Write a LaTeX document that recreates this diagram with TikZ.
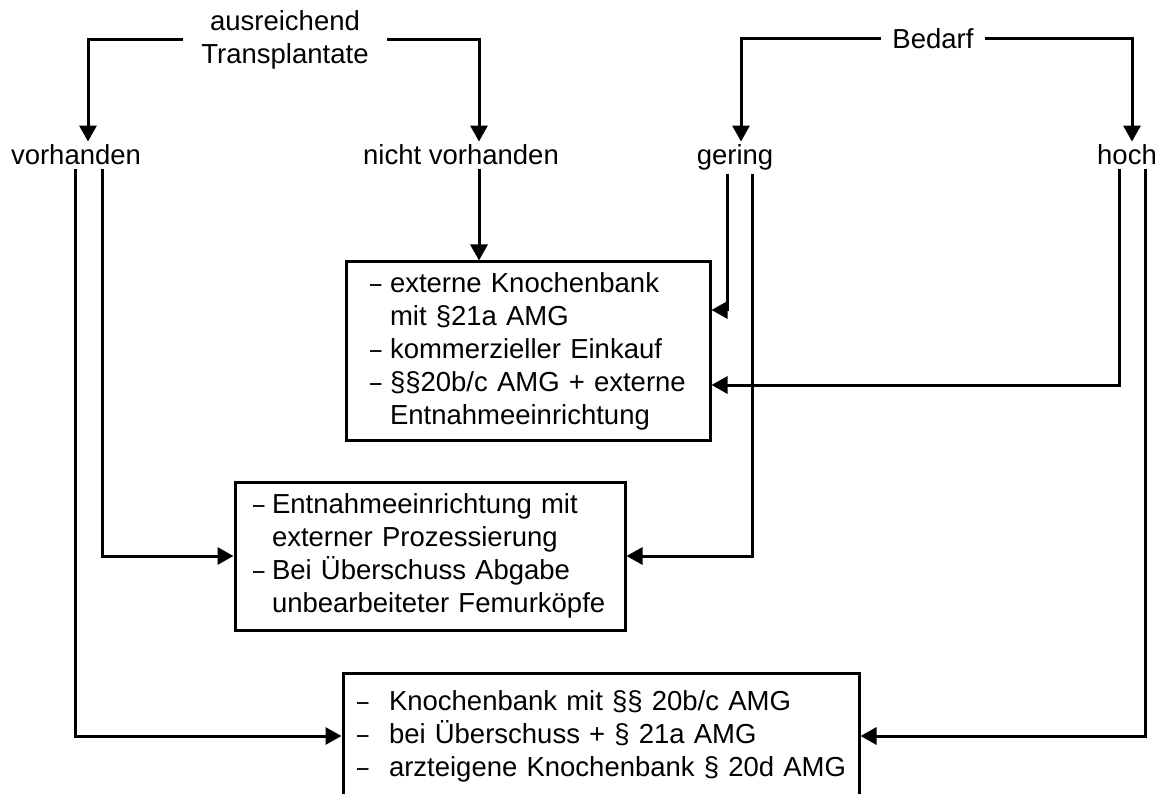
\documentclass[tikz,border=0pt]{standalone}
\usepackage{fontspec}
\setmainfont{Liberation Sans}
\usetikzlibrary{arrows.meta}
\tikzstyle{arrow} = [line width=3pt,-{Triangle[width=17pt,length=16pt]}]
\tikzstyle{txt} = [font=\fontsize{27.5}{33}\selectfont]
\tikzstyle{kasten} = [txt, draw, line width=3pt, align=left]
\newcommand{\strich}[1][22pt]{\makebox[#1][l]{\hspace{2pt}\scalebox{0.75}[1]{–}}}

\begin{document}
\begin{tikzpicture}[x=1pt,y=-1pt]
	\useasboundingbox (0,0) rectangle (1162,794);
	\node[txt, align=center, inner xsep=18pt] (ausr) at (285,40) {ausreichend\\Transplantate};
	\node[txt, inner xsep=11pt] (bedarf) at (933,39) {Bedarf};
	\node[txt, anchor=base] (vorh) at (76,165) {vorhanden};
	\node[txt, anchor=base] (nvorh) at (461,165) {nicht vorhanden};
	\node[txt, anchor=base] (gering) at (735,165) {gering};
	\node[txt, anchor=base] (hoch) at (1127,165) {hoch};

	\node[kasten, text width=320pt, inner xsep=22pt, minimum height=178pt] (box1) at (528,351) {\strich externe Knochenbank\\\hspace*{22pt}mit §21a AMG\\\strich kommerzieller Einkauf\\\strich §§20b/c AMG + externe\\\hspace*{22pt}Entnahmeeinrichtung};
	\node[kasten, text width=358pt, inner xsep=16pt, minimum height=148pt] (box2) at (430,556) {\strich[21pt]Entnahmeeinrichtung mit\\\hspace*{21pt}externer Prozessierung\\\strich[21pt]Bei Überschuss Abgabe\\\hspace*{21pt}unbearbeiteter Femurköpfe};
	\node[kasten, text width=492pt, inner xsep=12pt, minimum height=126pt] (box3) at (601,736) {\strich[34pt]Knochenbank mit §§ 20b/c AMG\\\strich[34pt]bei Überschuss + § 21a AMG\\\strich[34pt]arzteigene Knochenbank § 20d AMG};

	\draw[arrow] (ausr.west) -| ([xshift=12pt]vorh.north);
	\draw[arrow] (ausr.east) -| ([xshift=18pt]nvorh.north);
	\draw[arrow] (bedarf.west) -| ([xshift=6pt]gering.north);
	\draw[arrow] (bedarf.east) -| ([xshift=5pt]hoch.north);

	\draw[arrow] ([xshift=18pt]nvorh.south) -- ([xshift=18pt]nvorh.south |- box1.north);
	\draw[arrow] ([xshift=-1pt]vorh.south) |- (box3.west);
	\draw[arrow] ([xshift=26pt]vorh.south) |- (box2.west);
	\draw[arrow] ([xshift=-8pt]gering.south) |- ([yshift=41pt]box1.east);
	\draw[arrow] ([xshift=17pt]gering.south) |- (box2.east);
	\draw[arrow] ([xshift=-8pt]hoch.south) |- ([yshift=-34pt]box1.east);
	\draw[arrow] ([xshift=18pt]hoch.south) |- (box3.east);
\end{tikzpicture}
\end{document}
